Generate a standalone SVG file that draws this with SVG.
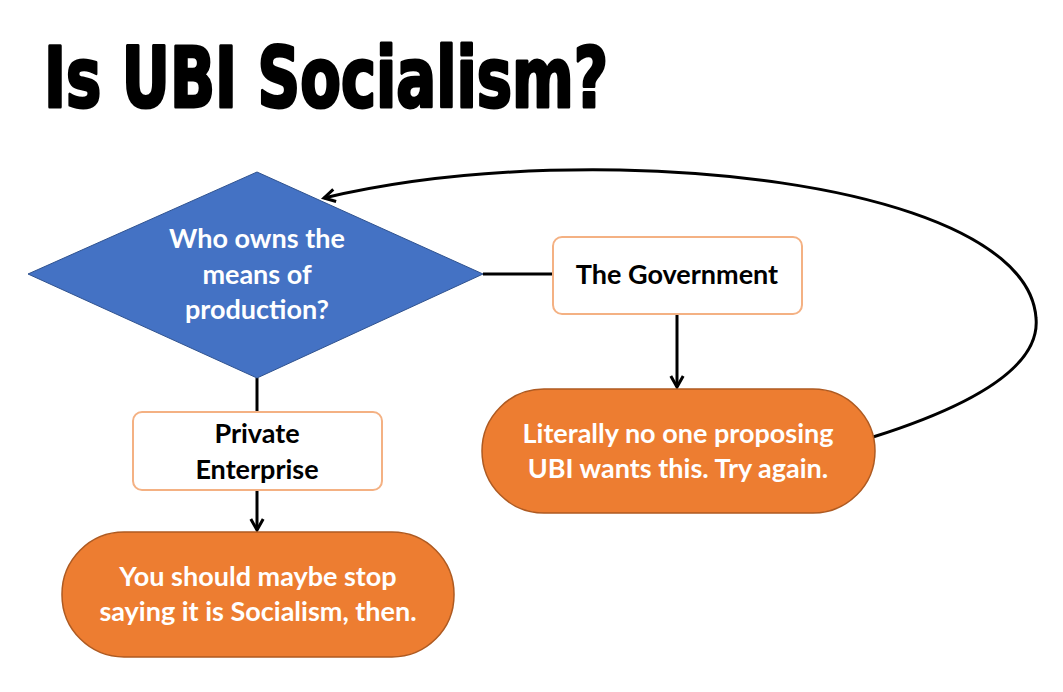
<svg xmlns="http://www.w3.org/2000/svg" width="1063" height="692" viewBox="0 0 1063 692">
<defs>
<marker id="arr" viewBox="0 0 12 12" refX="10" refY="6" markerWidth="5.5" markerHeight="5.5" orient="auto" markerUnits="strokeWidth">
<path d="M2,1.5 L10,6 L2,10.5" fill="none" stroke="#000" stroke-width="2.2" stroke-linejoin="miter"/>
</marker>
<style>
.t{font-family:"Lato","Open Sans","Liberation Sans",sans-serif;font-weight:bold;font-size:27px;text-anchor:middle}
.w{fill:#fff}
.k{fill:#000}
.box{fill:#fff;stroke:#F4B183;stroke-width:2}
.pill{fill:#ED7D31;stroke:#AE5A21;stroke-width:1.5}
.c{fill:none;stroke:#000;stroke-width:3}
</style>
</defs>
<rect width="1063" height="692" fill="#fff"/>
<text x="44" y="107" font-family="'DejaVu Sans Condensed','Liberation Sans',sans-serif" font-weight="bold" font-size="84" textLength="564" lengthAdjust="spacingAndGlyphs" fill="#000" stroke="#000" stroke-width="3" stroke-linejoin="round">Is UBI Socialism?</text>
<g id="connectors">
<path class="c" d="M483,274 L553,274"/>
<path class="c" d="M257,378 L257,412"/>
<path class="c" d="M677,314 L677,387" marker-end="url(#arr)"/>
<path class="c" d="M257,490 L257,530" marker-end="url(#arr)"/>
<path class="c" d="M873,437 C990,400 1040,360 1036,318 C1030,230 850,175 620,170 C500,168 400,180 324,198" marker-end="url(#arr)"/>
</g>
<g id="question">
<polygon points="28,274 257,172 483,274 257,378" fill="#4472C4" stroke="#2F528F" stroke-width="1"/>
<text class="t w" x="257" y="248">Who owns the</text>
<text class="t w" x="257" y="284">means of</text>
<text class="t w" x="257" y="319">production?</text>
</g>
<g id="government">
<rect class="box" x="553" y="237" width="249" height="77" rx="9"/>
<text class="t k" x="677" y="284">The Government</text>
</g>
<g id="private">
<rect class="box" x="133" y="412" width="249" height="78" rx="9"/>
<text class="t k" x="257" y="443">Private</text>
<text class="t k" x="257" y="479">Enterprise</text>
</g>
<g id="no-one">
<rect class="pill" x="482" y="389" width="393" height="124" rx="62"/>
<text class="t w" x="678" y="443">Literally no one proposing</text>
<text class="t w" x="678" y="478">UBI wants this. Try again.</text>
</g>
<g id="stop">
<rect class="pill" x="62" y="532" width="392" height="125" rx="62"/>
<text class="t w" x="258" y="586">You should maybe stop</text>
<text class="t w" x="258" y="621">saying it is Socialism, then.</text>
</g>
</svg>
